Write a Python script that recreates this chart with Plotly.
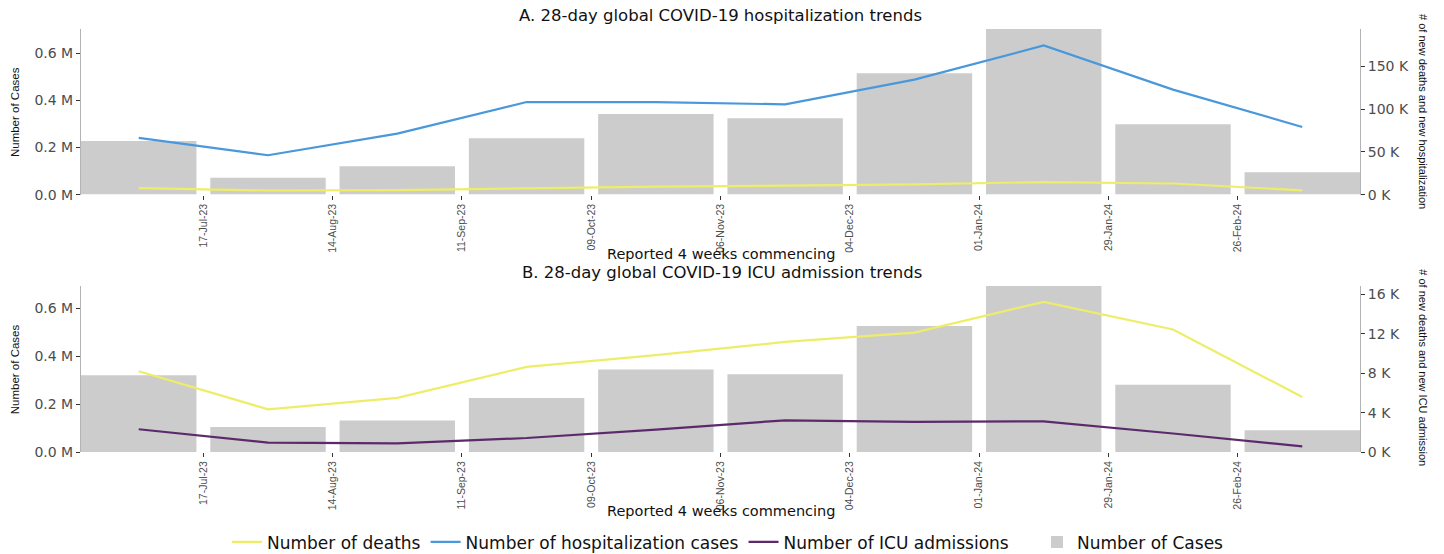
import plotly.graph_objects as go
from plotly.subplots import make_subplots

# ---------------- data ----------------
period_start = ['2023-07-03', '2023-07-31', '2023-08-28', '2023-09-25', '2023-10-23',
                '2023-11-20', '2023-12-18', '2024-01-15', '2024-02-12', '2024-03-11']
tick_dates = ['2023-07-17', '2023-08-14', '2023-09-11', '2023-10-09', '2023-11-06',
              '2023-12-04', '2024-01-01', '2024-01-29', '2024-02-26']
tick_labels = ['17-Jul-23', '14-Aug-23', '11-Sep-23', '09-Oct-23', '06-Nov-23',
               '04-Dec-23', '01-Jan-24', '29-Jan-24', '26-Feb-24']

# Panel A: hospitalization
cases_hosp = [227700, 71500, 121000, 239000, 342600, 324000, 516000, 703500, 299000, 94500]
hosp_cases = [66400, 46100, 71500, 108400, 108200, 105700, 134600, 174600, 122900, 79200]
deaths_hosp = [7500, 4800, 5300, 7600, 9300, 10500, 12000, 14700, 13000, 5000]

# Panel B: ICU
cases_icu = [320000, 104000, 131000, 225500, 344000, 324000, 526000, 693000, 281000, 90600]
deaths_icu = [8200, 4340, 5490, 8640, 9830, 11180, 12130, 15250, 12440, 5590]
icu_adm = [2310, 960, 880, 1420, 2280, 3220, 3050, 3120, 1880, 580]

left_ticks = [0, 200000, 400000, 600000]
left_labels = ['0.0 M', '0.2 M', '0.4 M', '0.6 M']
rightA_ticks = [0, 50000, 100000, 150000]
rightA_labels = ['0 K', '50 K', '100 K', '150 K']
rightB_ticks = [0, 4000, 8000, 12000, 16000]
rightB_labels = ['0 K', '4 K', '8 K', '12 K', '16 K']

# ---------------- style ----------------
W, H = 1444, 554
L, R, T, B = 81, 1360, 29, 451.7
PW, PH = R - L, B - T
HF = "DejaVu Sans"
VF = "Liberation Sans, Arial"
YEL, BLU, PUR, GRY = "#EDED6A", "#4A98DC", "#5C2A6C", "#CCCCCC"
BAR_W = 25 * 86400000
XRANGE = ['2023-06-20 12:00', '2024-03-23 12:00']


def px(x):
    return (x - L) / PW


def py(y):
    return (B - y) / PH


fig = make_subplots(rows=2, cols=1, specs=[[{"secondary_y": True}], [{"secondary_y": True}]])

# Panel A
fig.add_trace(go.Bar(x=period_start, y=cases_hosp, width=BAR_W, marker_color=GRY,
                     marker_line_width=0, name="Number of Cases", legend="legend2",
                     showlegend=True), row=1, col=1, secondary_y=False)
fig.add_trace(go.Scatter(x=period_start, y=deaths_hosp, mode="lines", line=dict(color=YEL, width=2.2),
                         name="Number of deaths", legendrank=1), row=1, col=1, secondary_y=True)
fig.add_trace(go.Scatter(x=period_start, y=hosp_cases, mode="lines", line=dict(color=BLU, width=2.2),
                         name="Number of hospitalization cases", legendrank=2), row=1, col=1, secondary_y=True)
# Panel B
fig.add_trace(go.Bar(x=period_start, y=cases_icu, width=BAR_W, marker_color=GRY,
                     marker_line_width=0, name="Number of Cases", legend="legend2",
                     showlegend=False), row=2, col=1, secondary_y=False)
fig.add_trace(go.Scatter(x=period_start, y=deaths_icu, mode="lines", line=dict(color=YEL, width=2.2),
                         name="Number of deaths", showlegend=False), row=2, col=1, secondary_y=True)
fig.add_trace(go.Scatter(x=period_start, y=icu_adm, mode="lines", line=dict(color=PUR, width=2.2),
                         name="Number of ICU admissions", legendrank=3), row=2, col=1, secondary_y=True)

xcommon = dict(type="date", range=XRANGE, tickvals=tick_dates, ticktext=tick_labels,
               tickangle=-90, ticks="outside", ticklen=4, tickcolor="#333333",
               showline=False, showgrid=False, zeroline=False,
               tickfont=dict(family=VF, size=10.5, color="#4d4d4d"))
ycommon = dict(ticks="outside", ticklen=4, tickcolor="#333333", showline=True,
               linecolor="#b3b3b3", linewidth=1, showgrid=False, zeroline=False,
               tickfont=dict(family=HF, size=14, color="#4d4d4d"))

fig.update_layout(
    xaxis=dict(domain=[0, 1], anchor="y", **xcommon),
    xaxis2=dict(domain=[0, 1], anchor="y3", **xcommon),
    yaxis=dict(domain=[py(194.5), 1], range=[0, 703500], tickvals=left_ticks, ticktext=left_labels, **ycommon),
    yaxis2=dict(range=[0, 193900], tickvals=rightA_ticks, ticktext=rightA_labels, side="right",
                overlaying="y", anchor="x", **ycommon),
    yaxis3=dict(domain=[0, py(285.7)], range=[0, 693000], tickvals=left_ticks, ticktext=left_labels, **ycommon),
    yaxis4=dict(range=[0, 16870], tickvals=rightB_ticks, ticktext=rightB_labels, side="right",
                overlaying="y3", anchor="x2", **ycommon),
)

ann = []
def add_text(text, x, y, size, family=HF, angle=0, color="#111111"):
    ann.append(dict(text=text, x=px(x), y=py(y), xref="paper", yref="paper", showarrow=False,
                    xanchor="center", yanchor="middle", textangle=angle,
                    font=dict(family=family, size=size, color=color)))

add_text("A. 28-day global COVID-19 hospitalization trends", 720, 16, 16.5)
add_text("B. 28-day global COVID-19 ICU admission trends", 722, 272, 16.5)
add_text("Reported 4 weeks commencing", 721, 254, 14.5)
add_text("Reported 4 weeks commencing", 721, 511, 14.5)
add_text("Number of Cases", 15, 112, 11.5, VF, -90)
add_text("Number of Cases", 15, 369, 11.5, VF, -90)
add_text("# of new deaths and new hospitalization", 1423, 111, 11, VF, 90)
add_text("# of new deaths and new ICU admission", 1423, 367, 11, VF, 90)

fig.update_layout(
    width=W, height=H, autosize=False,
    margin=dict(l=L, r=W - R, t=T, b=H - B, pad=0, autoexpand=False),
    paper_bgcolor="white", plot_bgcolor="white",
    annotations=ann, barmode="overlay",
    legend=dict(orientation="h", x=px(227), xanchor="left", y=py(542), yanchor="middle",
                font=dict(family=HF, size=17, color="#111111"), bgcolor="rgba(0,0,0,0)",
                itemwidth=30, traceorder="normal"),
    legend2=dict(orientation="h", x=px(1037), xanchor="left", y=py(542), yanchor="middle",
                 font=dict(family=HF, size=17, color="#111111"), bgcolor="rgba(0,0,0,0)",
                 itemwidth=30),
)

fig.write_html("out.html", config={"displayModeBar": False},
               post_script="document.body.style.margin='0px';")
